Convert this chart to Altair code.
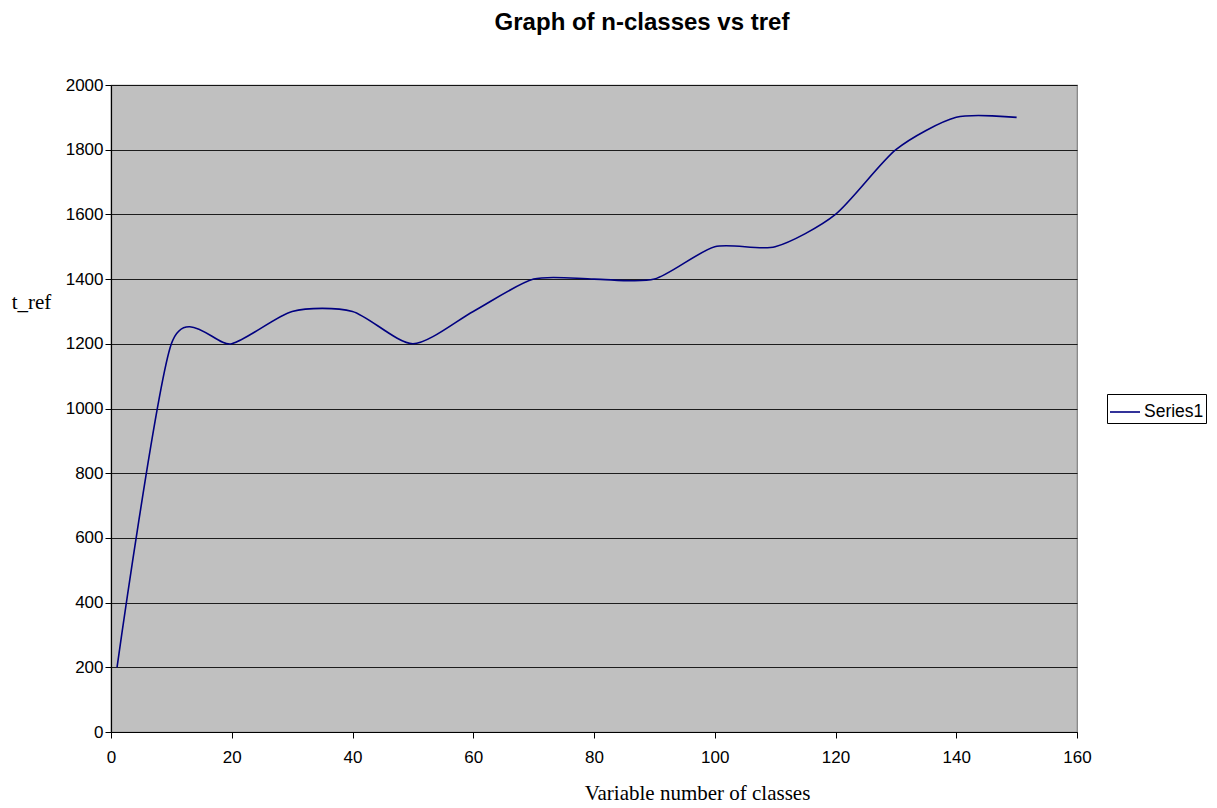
import altair as alt
import pandas as pd

# Number of classes and the matching t_ref values
n_classes = [1, 10, 20, 30, 40, 50, 60, 70, 80, 90, 100, 110, 120, 130, 140, 150]
t_ref = [200, 1200, 1200, 1300, 1300, 1200, 1300, 1400, 1400, 1400, 1500, 1500, 1600, 1800, 1900, 1900]
series_name = "Series1"

x_ticks = list(range(0, 161, 20))
y_ticks = list(range(0, 2001, 200))

df = pd.DataFrame({"n": n_classes, "t": t_ref, "series": [series_name] * len(n_classes)})

SANS = "Liberation Sans"
SERIF = "Liberation Serif"

line = alt.Chart(df).mark_line(
    interpolate="cardinal", tension=0.25, strokeWidth=1.6, clip=True
).encode(
    x=alt.X(
        "n:Q",
        scale=alt.Scale(domain=[0, 160], nice=False, zero=False),
        axis=alt.Axis(
            values=x_ticks,
            format="d",
            grid=False,
            title="Variable number of classes",
            titleFont=SERIF,
            titleFontSize=21,
            titleFontWeight="normal",
            titleColor="black",
            titleX=586,
            titleY=67,
            titleAlign="center",
            titleBaseline="alphabetic",
            labelFont=SANS,
            labelFontSize=17,
            labelColor="black",
            labelPadding=11,
            labelFlush=False,
            tickColor="black",
            tickSize=6,
            domainColor="black",
            domainWidth=1.2,
        ),
    ),
    y=alt.Y(
        "t:Q",
        scale=alt.Scale(domain=[0, 2000], nice=False),
        axis=alt.Axis(
            values=y_ticks,
            format="d",
            grid=True,
            gridColor="black",
            gridWidth=1,
            gridOpacity=0.85,
            title="t_ref",
            titleFont=SERIF,
            titleFontSize=21,
            titleFontWeight="normal",
            titleColor="black",
            titleAngle=0,
            titleX=-80,
            titleY=217,
            titleAlign="center",
            titleBaseline="middle",
            labelFont=SANS,
            labelFontSize=17,
            labelColor="black",
            labelPadding=2,
            labelFlush=False,
            tickColor="black",
            tickSize=6,
            domainColor="black",
            domainWidth=1.2,
        ),
    ),
    color=alt.Color(
        "series:N",
        scale=alt.Scale(range=["#000080"]),
        legend=alt.Legend(
            title=None,
            orient="none",
            legendX=996,
            legendY=309,
            symbolType="stroke",
            symbolSize=900,
            symbolStrokeWidth=1.6,
            labelFont=SANS,
            labelFontSize=17.5,
            labelColor="black",
            labelOffset=3,
            strokeColor="black",
            fillColor="white",
            padding=2,
        ),
    ),
)

chart = line.properties(
    width=966,
    height=647,
    title=alt.TitleParams(
        "Graph of n-classes vs tref",
        font=SANS,
        fontSize=24,
        fontWeight="bold",
        color="black",
        anchor="middle",
        dx=48,
        offset=41,
    ),
    padding={"left": 111, "top": 85, "right": 140, "bottom": 76},
    autosize=alt.AutoSizeParams(type="none"),
    background="white",
).configure_view(
    fill="#C0C0C0",
    stroke="#808080",
    strokeWidth=1.2,
)

chart.save("out.html", embed_options={"renderer": "svg", "actions": False})
